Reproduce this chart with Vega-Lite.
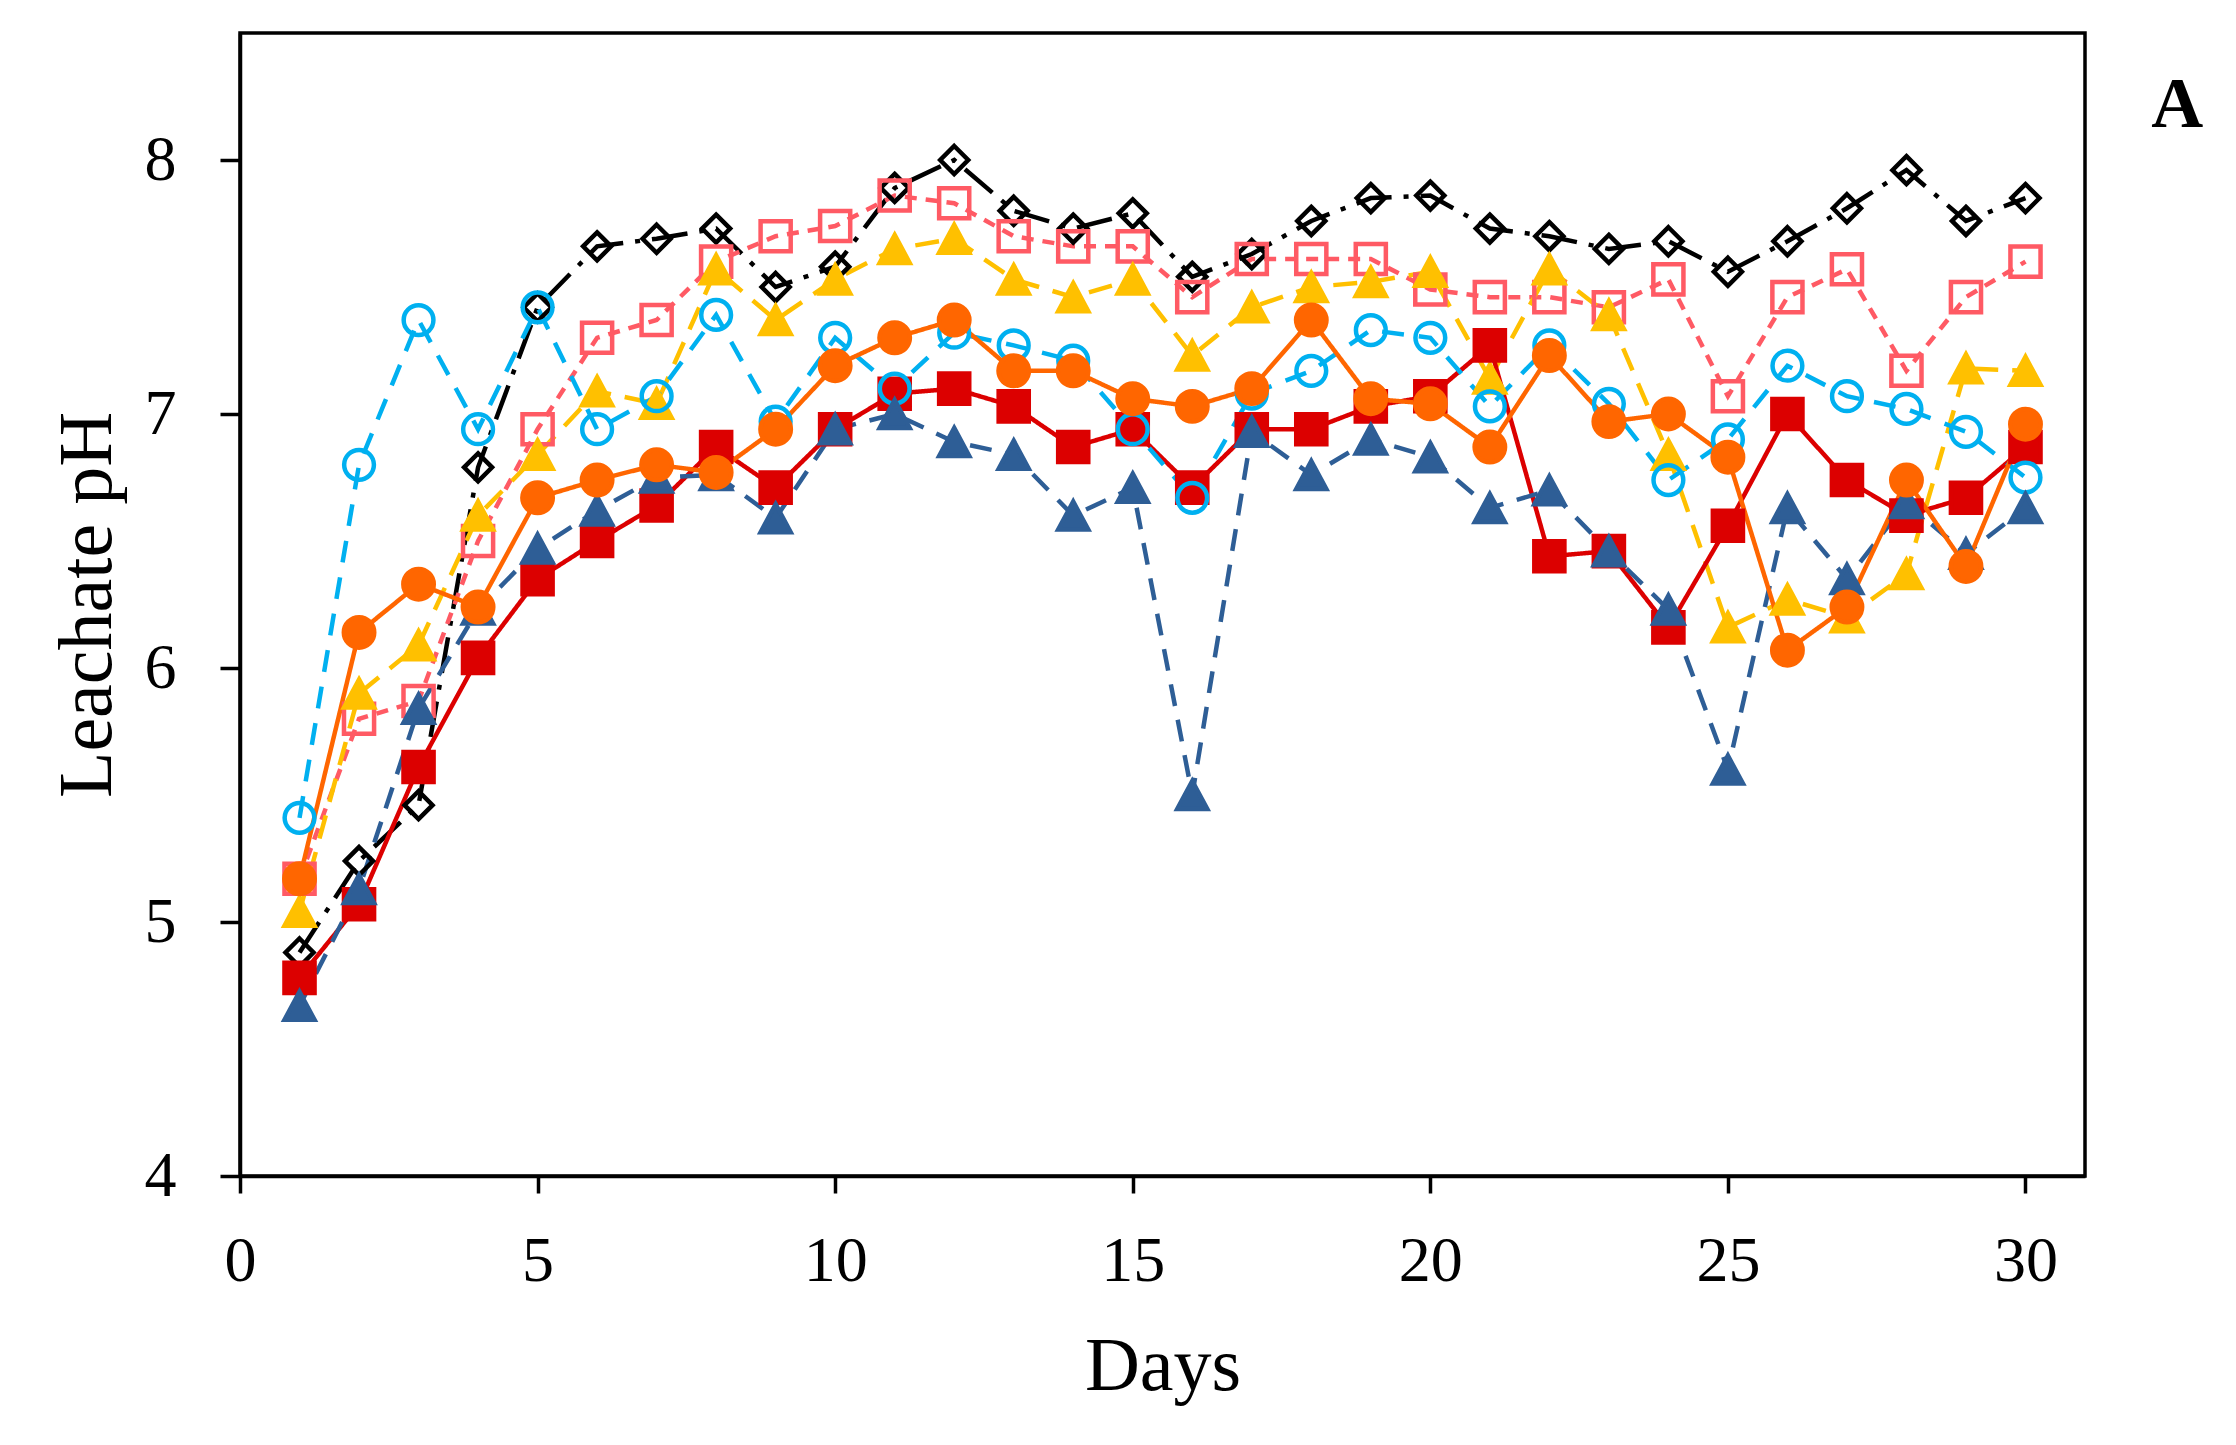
{
  "$schema": "https://vega.github.io/schema/vega-lite/v6.json",
  "width": 1845,
  "height": 1143,
  "autosize": {"type": "none"},
  "padding": {"left": 240, "top": 33, "right": 151, "bottom": 269},
  "background": "white",
  "config": {
    "view": {"stroke": "black", "strokeWidth": 3.5},
    "axis": {
      "grid": false,
      "domainColor": "black",
      "domainWidth": 3.5,
      "tickColor": "black",
      "tickWidth": 3.5,
      "labelFont": "Liberation Serif",
      "labelFontSize": 64,
      "labelColor": "black",
      "titleFont": "Liberation Serif",
      "titleFontSize": 76,
      "titleFontWeight": "normal",
      "titleColor": "black"
    }
  },
  "datasets": {
    "ph": [
      {"day":1,"series":"T1","ph":4.88},{"day":2,"series":"T1","ph":5.24},{"day":3,"series":"T1","ph":5.46},{"day":4,"series":"T1","ph":6.79},{"day":5,"series":"T1","ph":7.42},{"day":6,"series":"T1","ph":7.66},{"day":7,"series":"T1","ph":7.69},{"day":8,"series":"T1","ph":7.73},{"day":9,"series":"T1","ph":7.5},{"day":10,"series":"T1","ph":7.58},
      {"day":11,"series":"T1","ph":7.89},{"day":12,"series":"T1","ph":8.0},{"day":13,"series":"T1","ph":7.8},{"day":14,"series":"T1","ph":7.73},{"day":15,"series":"T1","ph":7.79},{"day":16,"series":"T1","ph":7.54},{"day":17,"series":"T1","ph":7.63},{"day":18,"series":"T1","ph":7.76},{"day":19,"series":"T1","ph":7.85},{"day":20,"series":"T1","ph":7.86},
      {"day":21,"series":"T1","ph":7.73},{"day":22,"series":"T1","ph":7.7},{"day":23,"series":"T1","ph":7.65},{"day":24,"series":"T1","ph":7.68},{"day":25,"series":"T1","ph":7.56},{"day":26,"series":"T1","ph":7.68},{"day":27,"series":"T1","ph":7.81},{"day":28,"series":"T1","ph":7.96},{"day":29,"series":"T1","ph":7.76},{"day":30,"series":"T1","ph":7.85},

      {"day":1,"series":"T2","ph":5.17},{"day":2,"series":"T2","ph":5.8},{"day":3,"series":"T2","ph":5.87},{"day":4,"series":"T2","ph":6.5},{"day":5,"series":"T2","ph":6.94},{"day":6,"series":"T2","ph":7.3},{"day":7,"series":"T2","ph":7.37},{"day":8,"series":"T2","ph":7.6},{"day":9,"series":"T2","ph":7.7},{"day":10,"series":"T2","ph":7.74},
      {"day":11,"series":"T2","ph":7.86},{"day":12,"series":"T2","ph":7.83},{"day":13,"series":"T2","ph":7.7},{"day":14,"series":"T2","ph":7.66},{"day":15,"series":"T2","ph":7.66},{"day":16,"series":"T2","ph":7.46},{"day":17,"series":"T2","ph":7.61},{"day":18,"series":"T2","ph":7.61},{"day":19,"series":"T2","ph":7.61},{"day":20,"series":"T2","ph":7.49},
      {"day":21,"series":"T2","ph":7.46},{"day":22,"series":"T2","ph":7.46},{"day":23,"series":"T2","ph":7.42},{"day":24,"series":"T2","ph":7.53},{"day":25,"series":"T2","ph":7.07},{"day":26,"series":"T2","ph":7.46},{"day":27,"series":"T2","ph":7.57},{"day":28,"series":"T2","ph":7.17},{"day":29,"series":"T2","ph":7.46},{"day":30,"series":"T2","ph":7.6},

      {"day":1,"series":"T3","ph":5.04},{"day":2,"series":"T3","ph":5.9},{"day":3,"series":"T3","ph":6.09},{"day":4,"series":"T3","ph":6.6},{"day":5,"series":"T3","ph":6.84},{"day":6,"series":"T3","ph":7.09},{"day":7,"series":"T3","ph":7.04},{"day":8,"series":"T3","ph":7.57},{"day":9,"series":"T3","ph":7.37},{"day":10,"series":"T3","ph":7.53},
      {"day":11,"series":"T3","ph":7.65},{"day":12,"series":"T3","ph":7.69},{"day":13,"series":"T3","ph":7.53},{"day":14,"series":"T3","ph":7.46},{"day":15,"series":"T3","ph":7.53},{"day":16,"series":"T3","ph":7.23},{"day":17,"series":"T3","ph":7.42},{"day":18,"series":"T3","ph":7.5},{"day":19,"series":"T3","ph":7.52},{"day":20,"series":"T3","ph":7.56},
      {"day":21,"series":"T3","ph":7.14},{"day":22,"series":"T3","ph":7.57},{"day":23,"series":"T3","ph":7.39},{"day":24,"series":"T3","ph":6.84},{"day":25,"series":"T3","ph":6.16},{"day":26,"series":"T3","ph":6.27},{"day":27,"series":"T3","ph":6.2},{"day":28,"series":"T3","ph":6.37},{"day":29,"series":"T3","ph":7.18},{"day":30,"series":"T3","ph":7.17},

      {"day":1,"series":"T4","ph":4.78},{"day":2,"series":"T4","ph":5.07},{"day":3,"series":"T4","ph":5.61},{"day":4,"series":"T4","ph":6.04},{"day":5,"series":"T4","ph":6.35},{"day":6,"series":"T4","ph":6.5},{"day":7,"series":"T4","ph":6.64},{"day":8,"series":"T4","ph":6.87},{"day":9,"series":"T4","ph":6.71},{"day":10,"series":"T4","ph":6.94},
      {"day":11,"series":"T4","ph":7.08},{"day":12,"series":"T4","ph":7.1},{"day":13,"series":"T4","ph":7.03},{"day":14,"series":"T4","ph":6.87},{"day":15,"series":"T4","ph":6.94},{"day":16,"series":"T4","ph":6.71},{"day":17,"series":"T4","ph":6.94},{"day":18,"series":"T4","ph":6.94},{"day":19,"series":"T4","ph":7.03},{"day":20,"series":"T4","ph":7.07},
      {"day":21,"series":"T4","ph":7.27},{"day":22,"series":"T4","ph":6.44},{"day":23,"series":"T4","ph":6.46},{"day":24,"series":"T4","ph":6.16},{"day":25,"series":"T4","ph":6.56},{"day":26,"series":"T4","ph":7.0},{"day":27,"series":"T4","ph":6.74},{"day":28,"series":"T4","ph":6.6},{"day":29,"series":"T4","ph":6.67},{"day":30,"series":"T4","ph":6.87},

      {"day":1,"series":"T5","ph":5.41},{"day":2,"series":"T5","ph":6.8},{"day":3,"series":"T5","ph":7.37},{"day":4,"series":"T5","ph":6.94},{"day":5,"series":"T5","ph":7.42},{"day":6,"series":"T5","ph":6.94},{"day":7,"series":"T5","ph":7.07},{"day":8,"series":"T5","ph":7.39},{"day":9,"series":"T5","ph":6.97},{"day":10,"series":"T5","ph":7.3},
      {"day":11,"series":"T5","ph":7.1},{"day":12,"series":"T5","ph":7.32},{"day":13,"series":"T5","ph":7.27},{"day":14,"series":"T5","ph":7.21},{"day":15,"series":"T5","ph":6.94},{"day":16,"series":"T5","ph":6.67},{"day":17,"series":"T5","ph":7.08},{"day":18,"series":"T5","ph":7.17},{"day":19,"series":"T5","ph":7.33},{"day":20,"series":"T5","ph":7.3},
      {"day":21,"series":"T5","ph":7.03},{"day":22,"series":"T5","ph":7.27},{"day":23,"series":"T5","ph":7.04},{"day":24,"series":"T5","ph":6.74},{"day":25,"series":"T5","ph":6.9},{"day":26,"series":"T5","ph":7.19},{"day":27,"series":"T5","ph":7.07},{"day":28,"series":"T5","ph":7.02},{"day":29,"series":"T5","ph":6.93},{"day":30,"series":"T5","ph":6.75},

      {"day":1,"series":"T6","ph":4.67},{"day":2,"series":"T6","ph":5.13},{"day":3,"series":"T6","ph":5.84},{"day":4,"series":"T6","ph":6.23},{"day":5,"series":"T6","ph":6.47},{"day":6,"series":"T6","ph":6.62},{"day":7,"series":"T6","ph":6.75},{"day":8,"series":"T6","ph":6.76},{"day":9,"series":"T6","ph":6.59},{"day":10,"series":"T6","ph":6.94},
      {"day":11,"series":"T6","ph":7.0},{"day":12,"series":"T6","ph":6.89},{"day":13,"series":"T6","ph":6.84},{"day":14,"series":"T6","ph":6.6},{"day":15,"series":"T6","ph":6.71},{"day":16,"series":"T6","ph":5.5},{"day":17,"series":"T6","ph":6.93},{"day":18,"series":"T6","ph":6.76},{"day":19,"series":"T6","ph":6.9},{"day":20,"series":"T6","ph":6.83},
      {"day":21,"series":"T6","ph":6.63},{"day":22,"series":"T6","ph":6.7},{"day":23,"series":"T6","ph":6.46},{"day":24,"series":"T6","ph":6.23},{"day":25,"series":"T6","ph":5.6},{"day":26,"series":"T6","ph":6.63},{"day":27,"series":"T6","ph":6.35},{"day":28,"series":"T6","ph":6.65},{"day":29,"series":"T6","ph":6.45},{"day":30,"series":"T6","ph":6.63},

      {"day":1,"series":"T7","ph":5.17},{"day":2,"series":"T7","ph":6.14},{"day":3,"series":"T7","ph":6.33},{"day":4,"series":"T7","ph":6.24},{"day":5,"series":"T7","ph":6.67},{"day":6,"series":"T7","ph":6.74},{"day":7,"series":"T7","ph":6.8},{"day":8,"series":"T7","ph":6.77},{"day":9,"series":"T7","ph":6.94},{"day":10,"series":"T7","ph":7.19},
      {"day":11,"series":"T7","ph":7.3},{"day":12,"series":"T7","ph":7.37},{"day":13,"series":"T7","ph":7.17},{"day":14,"series":"T7","ph":7.17},{"day":15,"series":"T7","ph":7.06},{"day":16,"series":"T7","ph":7.03},{"day":17,"series":"T7","ph":7.1},{"day":18,"series":"T7","ph":7.37},{"day":19,"series":"T7","ph":7.06},{"day":20,"series":"T7","ph":7.04},
      {"day":21,"series":"T7","ph":6.87},{"day":22,"series":"T7","ph":7.23},{"day":23,"series":"T7","ph":6.97},{"day":24,"series":"T7","ph":7.0},{"day":25,"series":"T7","ph":6.83},{"day":26,"series":"T7","ph":6.07},{"day":27,"series":"T7","ph":6.24},{"day":28,"series":"T7","ph":6.74},{"day":29,"series":"T7","ph":6.4},{"day":30,"series":"T7","ph":6.96}
    ],
    "label": [
      {"day": 32.55, "ph": 8.13, "text": "A"}
    ]
  },
  "layer": [
    {
      "data": {"name": "ph"},
      "mark": {"type": "line", "strokeWidth": 4.5},
      "encoding": {
        "x": {
          "field": "day",
          "type": "quantitative",
          "title": "Days",
          "scale": {"domain": [0, 31], "nice": false, "zero": false},
          "axis": {"values": [0, 5, 10, 15, 20, 25, 30], "format": "d", "tickSize": 17, "labelPadding": 36, "titlePadding": 36, "labelFlush": false}
        },
        "y": {
          "field": "ph",
          "type": "quantitative",
          "title": "Leachate pH",
          "scale": {"domain": [4, 8.5], "nice": false, "zero": false},
          "axis": {"values": [4, 5, 6, 7, 8], "format": "d", "tickSize": 20, "labelPadding": 44, "titlePadding": 18, "labelFlush": false}
        },
        "stroke": {
          "field": "series",
          "type": "nominal",
          "legend": null,
          "scale": {
            "domain": ["T1", "T2", "T3", "T4", "T5", "T6", "T7"],
            "range": ["#000000", "#FF5A64", "#FFC000", "#DC0000", "#00B0F0", "#2E5E96", "#FF6600"]
          }
        },
        "strokeDash": {
          "field": "series",
          "type": "nominal",
          "legend": null,
          "scale": {
            "domain": ["T1", "T2", "T3", "T4", "T5", "T6", "T7"],
            "range": [[36, 12, 5, 12], [12, 9], [24, 14], [1, 0], [22, 15], [22, 14], [1, 0]]
          }
        }
      }
    },
    {
      "data": {"name": "ph"},
      "mark": {"type": "point", "filled": true, "opacity": 1, "size": 1225, "strokeWidth": 4.5},
      "encoding": {
        "x": {"field": "day", "type": "quantitative"},
        "y": {"field": "ph", "type": "quantitative"},
        "shape": {
          "field": "series",
          "type": "nominal",
          "legend": null,
          "scale": {
            "domain": ["T1", "T2", "T3", "T4", "T5", "T6", "T7"],
            "range": [
              "M0,-0.8L0.8,0L0,0.8L-0.8,0Z",
              "M-0.86,-0.86L0.86,-0.86L0.86,0.86L-0.86,0.86Z",
              "M0,-0.8L0.86,0.8L-0.86,0.8Z",
              "M-0.86,-0.86L0.86,-0.86L0.86,0.86L-0.86,0.86Z",
              "M0.85,0A0.85,0.85,0,1,1,-0.85,0A0.85,0.85,0,1,1,0.85,0Z",
              "M0,-0.8L0.86,0.8L-0.86,0.8Z",
              "M0.87,0A0.87,0.87,0,1,1,-0.87,0A0.87,0.87,0,1,1,0.87,0Z"
            ]
          }
        },
        "stroke": {"field": "series", "type": "nominal", "legend": null},
        "fill": {
          "field": "series",
          "type": "nominal",
          "legend": null,
          "scale": {
            "domain": ["T1", "T2", "T3", "T4", "T5", "T6", "T7"],
            "range": ["transparent", "transparent", "#FFC000", "#DC0000", "transparent", "#2E5E96", "#FF6600"]
          }
        }
      }
    },
    {
      "data": {"name": "label"},
      "mark": {"type": "text", "font": "Liberation Serif", "fontSize": 72, "fontWeight": "bold", "align": "center", "baseline": "alphabetic", "color": "black"},
      "encoding": {
        "x": {"field": "day", "type": "quantitative"},
        "y": {"field": "ph", "type": "quantitative"},
        "text": {"field": "text", "type": "nominal"}
      }
    }
  ]
}
